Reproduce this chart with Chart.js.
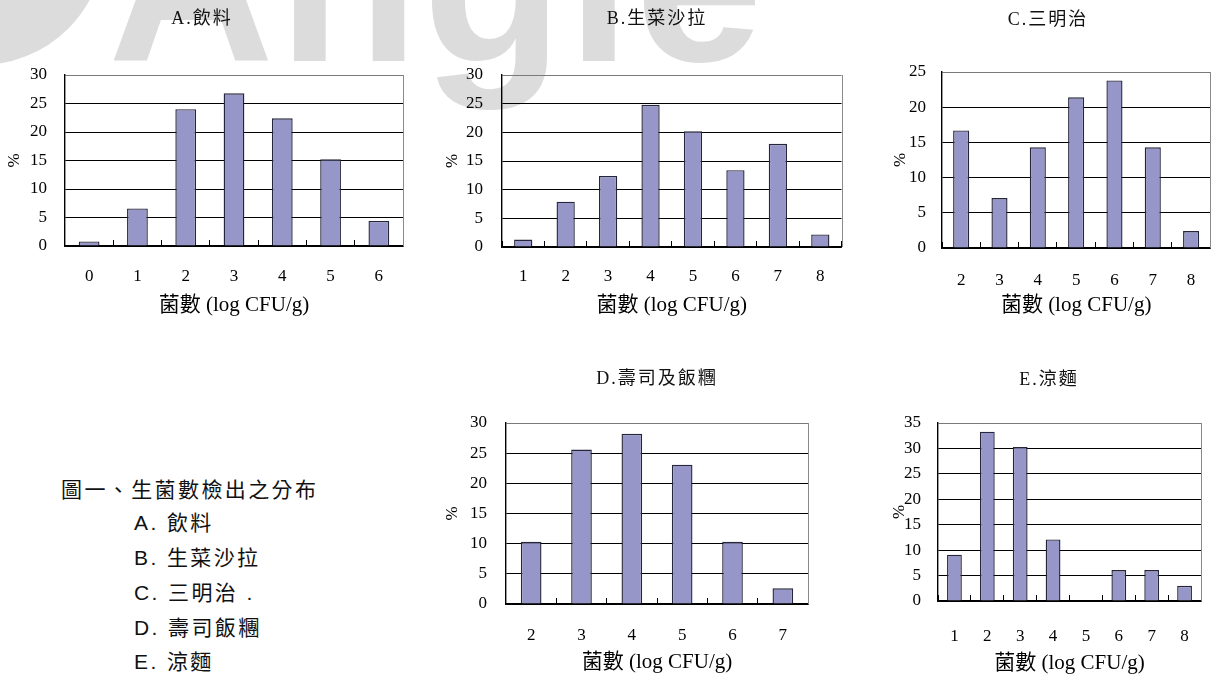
<!DOCTYPE html>
<html lang="zh-Hant">
<head>
<meta charset="utf-8">
<title>生菌數檢出之分布</title>
<script src="https://cdn.jsdelivr.net/npm/chart.js@4.4.1/dist/chart.umd.min.js"></script>
<style>
  html, body { margin: 0; padding: 0; background: #fff; }
  body { width: 1224px; height: 676px; position: relative; overflow: hidden; }
  .mark { position: absolute; color: #dcdcdc; font-family: "Liberation Sans", Arial, sans-serif;
          font-weight: bold; white-space: nowrap; line-height: 1; z-index: 0; }
  .ring { position: absolute; border-radius: 50%; border: 75px solid #dcdcdc; box-sizing: border-box; z-index: 0; }
  canvas { position: absolute; z-index: 1; }
  .ptitle { position: absolute; z-index: 2; transform: translateX(-50%); white-space: nowrap;
            font-family: "Liberation Serif", "Noto Sans CJK TC", serif; font-size: 18px;
            line-height: 20px; letter-spacing: 2px; color: #111; }
  .caption { position: absolute; z-index: 2; font-family: "Liberation Sans", "Noto Sans CJK TC", sans-serif;
             font-size: 21px; letter-spacing: 2.4px; color: #111; line-height: 21px; }
</style>
</head>
<body>
<div class="ring" style="left:-145px; top:-185px; width:250px; height:250px;"></div>
<div class="mark" style="left:108px; top:-133px; font-size:230px; letter-spacing:4px;">Angle</div>

<div class="ptitle" style="left:202px; top:8px;">A.飲料</div>
<div class="ptitle" style="left:657px; top:8px;">B.生菜沙拉</div>
<div class="ptitle" style="left:1048px; top:9px;">C.三明治</div>
<div class="ptitle" style="left:657px; top:368px;">D.壽司及飯糰</div>
<div class="ptitle" style="left:1049px; top:369px;">E.涼麵</div>

<div class="caption" style="left:61px; top:479px;">圖一、生菌數檢出之分布</div>
<div class="caption" style="left:134px; top:512px;">A. 飲料</div>
<div class="caption" style="left:134px; top:547px;">B. 生菜沙拉</div>
<div class="caption" style="left:134px; top:582px;">C. 三明治 .</div>
<div class="caption" style="left:134px; top:617px;">D. 壽司飯糰</div>
<div class="caption" style="left:134px; top:651px;">E. 涼麵</div>

<canvas id="chartA" width="420" height="330" style="left:0px; top:0px;"></canvas>
<canvas id="chartB" width="420" height="330" style="left:430px; top:0px;"></canvas>
<canvas id="chartC" width="364" height="330" style="left:860px; top:0px;"></canvas>
<canvas id="chartD" width="420" height="316" style="left:430px; top:360px;"></canvas>
<canvas id="chartE" width="364" height="316" style="left:860px; top:360px;"></canvas>

<script>
// Bin labels (log CFU/g) and share of samples (%) for each food group
const beverageBins = ['0', '1', '2', '3', '4', '5', '6'];
const beveragePct  = [0.8, 6.6, 24.0, 26.8, 22.4, 15.2, 4.4];

const saladBins = ['1', '2', '3', '4', '5', '6', '7', '8'];
const saladPct  = [1.3, 7.9, 12.4, 24.8, 20.2, 13.4, 18.0, 2.2];

const sandwichBins = ['2', '3', '4', '5', '6', '7', '8'];
const sandwichPct  = [16.7, 7.1, 14.3, 21.4, 23.8, 14.3, 2.4];

const sushiBins = ['2', '3', '4', '5', '6', '7'];
const sushiPct  = [10.3, 25.6, 28.2, 23.1, 10.3, 2.6];

const noodleBins = ['1', '2', '3', '4', '5', '6', '7', '8'];
const noodlePct  = [9.1, 33.3, 30.3, 12.1, 0, 6.1, 6.1, 3.0];

// Value-axis ranges (upper bound, step) per panel
const yMaxA = 30, yMaxB = 30, yMaxC = 25, yMaxD = 30, yMaxE = 35;
const yStep = 5;

const xAxisTitle = '菌數 (log CFU/g)';
const yAxisTitle = '%';

const SERIF = '"Liberation Serif", "Noto Sans CJK TC", serif';

// Gray right edge of the plot frame
const frameEdge = {
  id: 'frameEdge',
  beforeDatasetsDraw(chart) {
    const { ctx, chartArea: a } = chart;
    ctx.save();
    ctx.strokeStyle = '#8a8a8a';
    ctx.lineWidth = 1;
    ctx.beginPath();
    ctx.moveTo(Math.round(a.right) + 0.5, a.top);
    ctx.lineTo(Math.round(a.right) + 0.5, a.bottom);
    ctx.stroke();
    ctx.restore();
  }
};

// box: canvas placement; plot: plot-area edges in page pixels; t: text offsets
function panel(id, bins, values, yMax, box, plot, t) {
  const ctx = document.getElementById(id);
  return new Chart(ctx, {
    type: 'bar',
    data: {
      labels: bins,
      datasets: [{
        data: values,
        backgroundColor: '#9696c8',
        borderColor: '#26263a',
        borderWidth: 1.4,
        borderSkipped: 'start',
        categoryPercentage: 1,
        barPercentage: t.bar
      }]
    },
    plugins: [frameEdge],
    options: {
      responsive: false,
      animation: false,
      events: [],
      layout: {
        padding: { top: plot.T - box.t, right: (box.l + box.w) - plot.R, bottom: 0, left: 0 }
      },
      plugins: { legend: { display: false }, tooltip: { enabled: false } },
      scales: {
        x: {
          offset: true,
          grid: { display: true, offset: true, drawOnChartArea: false, drawTicks: true,
                  tickLength: -6, color: '#000', lineWidth: 1 },
          border: { display: true, color: '#000', width: 1.4 },
          ticks: { autoSkip: false, maxRotation: 0, padding: t.xPad, color: '#000',
                   font: { family: SERIF, size: 17 } },
          title: { display: true, text: xAxisTitle, color: '#000',
                   font: { family: SERIF, size: 21 }, padding: { top: 0, bottom: t.xTitle } },
          afterFit(s) { s.height = (box.t + box.h) - plot.B; }
        },
        y: {
          min: 0, max: yMax,
          grid: { drawTicks: false, lineWidth: 1,
                  color: c => (c.tick && c.tick.value === yMax) ? '#7a7a7a' : '#000' },
          border: { display: true, color: '#000', width: 1.4 },
          ticks: { stepSize: yStep, padding: t.yPad, color: '#000',
                   font: { family: SERIF, size: 17 } },
          title: { display: true, text: yAxisTitle, color: '#000',
                   font: { family: SERIF, size: 17 }, padding: { top: t.yTitle, bottom: 0 } },
          afterFit(s) { s.width = plot.L - box.l; }
        }
      }
    }
  });
}

panel('chartA', beverageBins, beveragePct, yMaxA,
  { l: 0, t: 0, w: 420, h: 330 }, { L: 65, R: 403, T: 75, B: 246 },
  { bar: 0.43, xPad: 26, xTitle: 12, yPad: 18, yTitle: 4 });

panel('chartB', saladBins, saladPct, yMaxB,
  { l: 430, t: 0, w: 420, h: 330 }, { L: 502, R: 843, T: 75, B: 247 },
  { bar: 0.43, xPad: 25, xTitle: 12, yPad: 19, yTitle: 12 });

panel('chartC', sandwichBins, sandwichPct, yMaxC,
  { l: 860, t: 0, w: 364, h: 330 }, { L: 942, R: 1215, T: 72, B: 248 },
  { bar: 0.42, xPad: 28, xTitle: 12, yPad: 16, yTitle: 30 });

panel('chartD', sushiBins, sushiPct, yMaxD,
  { l: 430, t: 360, w: 420, h: 316 }, { L: 506, R: 808, T: 423, B: 604 },
  { bar: 0.41, xPad: 27, xTitle: 1, yPad: 19, yTitle: 12 });

panel('chartE', noodleBins, noodlePct, yMaxE,
  { l: 860, t: 360, w: 364, h: 316 }, { L: 938, R: 1201, T: 423, B: 601 },
  { bar: 0.45, xPad: 31, xTitle: 0, yPad: 17, yTitle: 29 });
</script>
</body>
</html>
